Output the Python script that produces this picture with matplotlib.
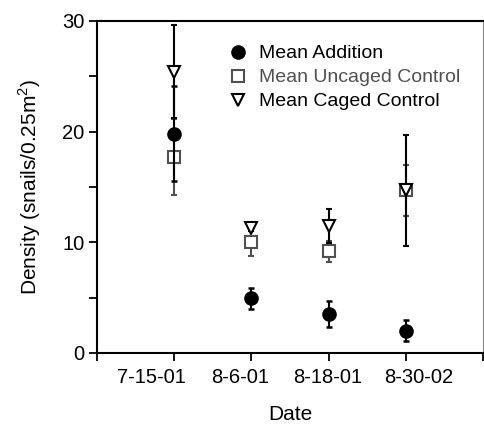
import numpy as np
import matplotlib
matplotlib.use("Agg")
import matplotlib.pyplot as plt
from matplotlib.ticker import FixedLocator

plt.rcParams["font.family"] = ["Liberation Sans", "DejaVu Sans"]
plt.rcParams["mathtext.fontset"] = "custom"
plt.rcParams["mathtext.rm"] = "Liberation Sans"

dates = ["7-15-01", "8-6-01", "8-18-01", "8-30-02"]
x = np.array([1, 2, 3, 4])

addition_mean = [19.8, 4.95, 3.5, 2.0]
addition_err = [4.3, 0.95, 1.15, 0.95]

uncaged_mean = [17.7, 10.05, 9.2, 14.7]
uncaged_err = [3.4, 1.3, 0.95, 2.3]

caged_mean = [25.4, 11.3, 11.45, 14.7]
caged_err = [4.2, 0.3, 1.55, 5.0]

# where the date labels sit along the axis (they are not centred on the ticks)
label_pos = [0.70, 1.85, 2.99, 4.17]

gray = "#505050"

fig = plt.figure(figsize=(4.85, 4.24), dpi=100)
ax = fig.add_axes([0.2, 0.1675, 0.796, 0.7835])

ax.errorbar(x, uncaged_mean, yerr=uncaged_err, fmt="s", color=gray, ms=8.5,
            mfc="white", mec=gray, mew=1.5, elinewidth=1.5, capsize=2.4,
            capthick=1.8, ecolor=gray, label="Mean Uncaged Control", zorder=3)
ax.errorbar(x, addition_mean, yerr=addition_err, fmt="o", color="black", ms=9.5,
            elinewidth=1.5, capsize=2.4, capthick=1.8, ecolor="black",
            label="Mean Addition", zorder=4)
ax.errorbar(x, caged_mean, yerr=caged_err, fmt="v", color="black", ms=8.5,
            mfc="white", mec="black", mew=1.5, elinewidth=1.5, capsize=2.4,
            capthick=1.8, ecolor="black", label="Mean Caged Control", zorder=5)

ax.set_xlim(0, 5)
ax.set_ylim(0, 30)

ax.set_yticks([0, 10, 20, 30])
ax.yaxis.set_minor_locator(FixedLocator([5, 15, 25]))
ax.tick_params(axis="y", which="both", direction="out", length=6, width=1.3,
               labelsize=14.5, pad=3)

ax.set_xticks([0, 1, 2, 3, 4, 5])
ax.set_xticklabels([])
ax.xaxis.set_minor_locator(FixedLocator(label_pos))
ax.xaxis.set_minor_formatter(plt.FixedFormatter(dates))
ax.tick_params(axis="x", which="major", direction="out", length=6, width=1.3)
ax.tick_params(axis="x", which="minor", length=0, labelsize=14.5, pad=11)

for side in ["left", "bottom", "top"]:
    ax.spines[side].set_linewidth(1.5)
ax.spines["right"].set_linewidth(0.8)
ax.spines["right"].set_color("#888888")

ax.set_xlabel("Date", fontsize=15, labelpad=13)
ax.set_ylabel("Density (snails/0.25m$^2$)", fontsize=15, labelpad=14)

handles, labels = ax.get_legend_handles_labels()
order = [1, 0, 2]
leg = ax.legend([handles[i][0] for i in order], [labels[i] for i in order],
                loc="upper left", bbox_to_anchor=(0.34, 0.928), frameon=False,
                fontsize=14, handlelength=1.0, handletextpad=0.6,
                labelspacing=0.33, borderpad=0, borderaxespad=0)
leg.get_texts()[1].set_color(gray)

fig.savefig("out.png", dpi=100)
